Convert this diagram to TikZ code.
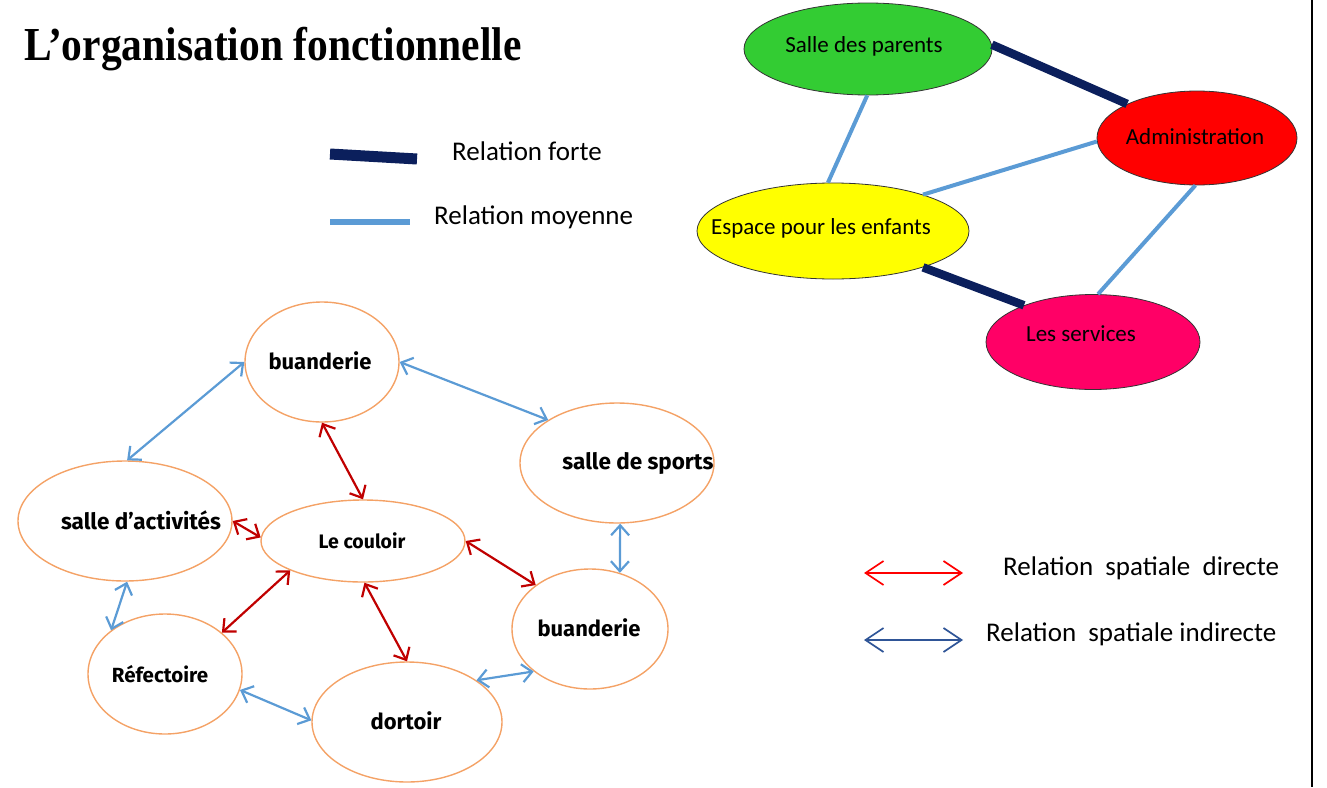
\documentclass[tikz,border=0pt]{standalone}
\usepackage{fontspec}
\setmainfont{Carlito}
\newfontfamily\titlefont{Liberation Serif}
\newfontfamily\roomfont{Fira Sans}
\usetikzlibrary{shapes.geometric,arrows.meta}
\definecolor{navy}{HTML}{0B1F5C}
\definecolor{lblue}{HTML}{5B9BD5}
\definecolor{orangeline}{HTML}{F4A266}
\definecolor{darkred}{HTML}{C00000}
\definecolor{legblue}{HTML}{2F5597}
\definecolor{pgreen}{HTML}{33CC33}
\definecolor{pred}{HTML}{FF0000}
\definecolor{pyellow}{HTML}{FFFF00}
\definecolor{ppink}{HTML}{FF0066}
\tikzset{
  zone/.style={ellipse, draw=black!80, line width=0.8pt, inner sep=0pt},
  zonetext/.style={font=\fontsize{23}{26}\selectfont, inner sep=0pt},
  room/.style={ellipse, draw=orangeline, line width=1.4pt, inner sep=0pt, minimum height=120pt},
  roomtext/.style={font=\roomfont\bfseries\fontsize{22}{24}\selectfont, inner sep=0pt},
  forte/.style={draw=navy, line width=8.5pt},
  moyenne/.style={draw=lblue, line width=4pt},
  barb/.tip={Straight Barb[length=10pt,width=18pt,line width=2.2pt]},
  direct/.style={draw=darkred, line width=2.2pt, barb-barb},
  indirect/.style={draw=lblue, line width=2.2pt, barb-barb},
  legbarb/.tip={Straight Barb[length=18pt,width=24pt,line width=1.7pt]},
  legtext/.style={anchor=west, inner sep=0pt, font=\fontsize{27}{31}\selectfont},
}
\begin{document}
\begin{tikzpicture}[x=1pt,y=-1pt]
\useasboundingbox (0,0) rectangle (1327,787);
% right border line
\coordinate (b1) at (1312,0);
\coordinate (b2) at (1312,787);
\draw[line width=2.5pt] (b1) -- (b2);
% title
\node[anchor=west, inner sep=0pt, font=\titlefont\bfseries\fontsize{41.5}{46}\selectfont] (title) at (24,49) {\scalebox{1}[1.14]{L’organisation fonctionnelle}};
% legend 1
\coordinate (f1) at (330,154);
\coordinate (f2) at (417,159);
\draw[draw=navy, line width=11pt] (f1) -- (f2);
\node[legtext] (tf) at (452,151) {Relation forte};
\coordinate (m1) at (330,222);
\coordinate (m2) at (410,222);
\draw[lblue, line width=6pt] (m1) -- (m2);
\node[legtext] (tm) at (434,217) {Relation moyenne};
% top-right graph
\node[zone, fill=pgreen, minimum width=248pt, minimum height=92pt] (sp) at (868,49) {};
\node[zonetext] (spt) at (864,46) {Salle des parents};
\node[zone, fill=pred, minimum width=200pt, minimum height=94pt] (ad) at (1197,138) {};
\node[zonetext] (adt) at (1195,137) {Administration};
\node[zone, fill=pyellow, minimum width=272pt, minimum height=96pt] (es) at (833,231) {};
\node[zonetext] (est) at (821,228) {Espace pour les enfants};
\node[zone, fill=ppink, minimum width=214pt, minimum height=95pt] (ls) at (1093,342) {};
\node[zonetext] (lst) at (1081,334) {Les services};
\draw[forte] (sp.2) -- (ad.154);
\draw[moyenne] (sp.-91) -- (es.96);
\draw[moyenne] (ad.182) -- (es.22);
\draw[moyenne] (ad.-92) -- (ls.84);
\draw[forte] (es.-22) -- (ls.152);
% legend 2
\coordinate (r1) at (864,573);
\coordinate (r2) at (963,573);
\draw[red, line width=1.7pt, legbarb-legbarb] (r1) -- (r2);
\node[legtext] (tr) at (1003,568) {Relation\ \ spatiale\ \ directe};
\coordinate (i1) at (864,640);
\coordinate (i2) at (963,640);
\draw[legblue, line width=1.7pt, legbarb-legbarb] (i1) -- (i2);
\node[legtext] (ti) at (986,634) {Relation\ \ spatiale indirecte};
% bottom-left graph
\node[room, minimum width=154pt] (bt) at (322,362) {};
\node[roomtext] (btt) at (320,361) {buanderie};
\node[room, minimum width=194pt] (ss) at (617,463) {};
\node[roomtext, font=\roomfont\bfseries\fontsize{22.5}{24}\selectfont] (sst) at (638,463) {salle de sports};
\node[room, minimum width=214pt] (sa) at (125,521) {};
\node[roomtext, font=\roomfont\bfseries\fontsize{22.5}{24}\selectfont] (sat) at (141,520) {salle d’activités};
\node[room, minimum width=204pt, minimum height=82pt] (lc) at (363,541) {};
\node[roomtext, font=\roomfont\bfseries\fontsize{19.5}{22}\selectfont] (lct) at (362,541) {Le couloir};
\node[room, minimum width=156pt] (br) at (590,629) {};
\node[roomtext] (brt) at (589,628) {buanderie};
\node[room, minimum width=154pt] (rf) at (165,674) {};
\node[roomtext, font=\roomfont\bfseries\fontsize{20.5}{23}\selectfont] (rft) at (160,674) {Réfectoire};
\node[room, minimum width=190pt] (dt) at (407,722) {};
\node[roomtext] (dtt) at (406,721) {dortoir};
% indirect relations
\draw[indirect] (bt.180) -- (sa.88);
\draw[indirect] (bt.0) -- (ss.148);
\draw[indirect] (ss.-87) -- (br.62);
\draw[indirect] (sa.-88) -- (rf.141);
\draw[indirect] (rf.-12) -- (dt.179);
\draw[indirect] (dt.31) -- (br.-143);
% direct relations
\draw[direct] (bt.-90) -- (lc.90);
\draw[direct] (sa.0) -- (lc.178);
\draw[direct] (lc.202) -- (rf.36);
\draw[direct] (lc.-88) -- (dt.90);
\draw[direct] (lc.0) -- (br.141);
\end{tikzpicture}
\end{document}
